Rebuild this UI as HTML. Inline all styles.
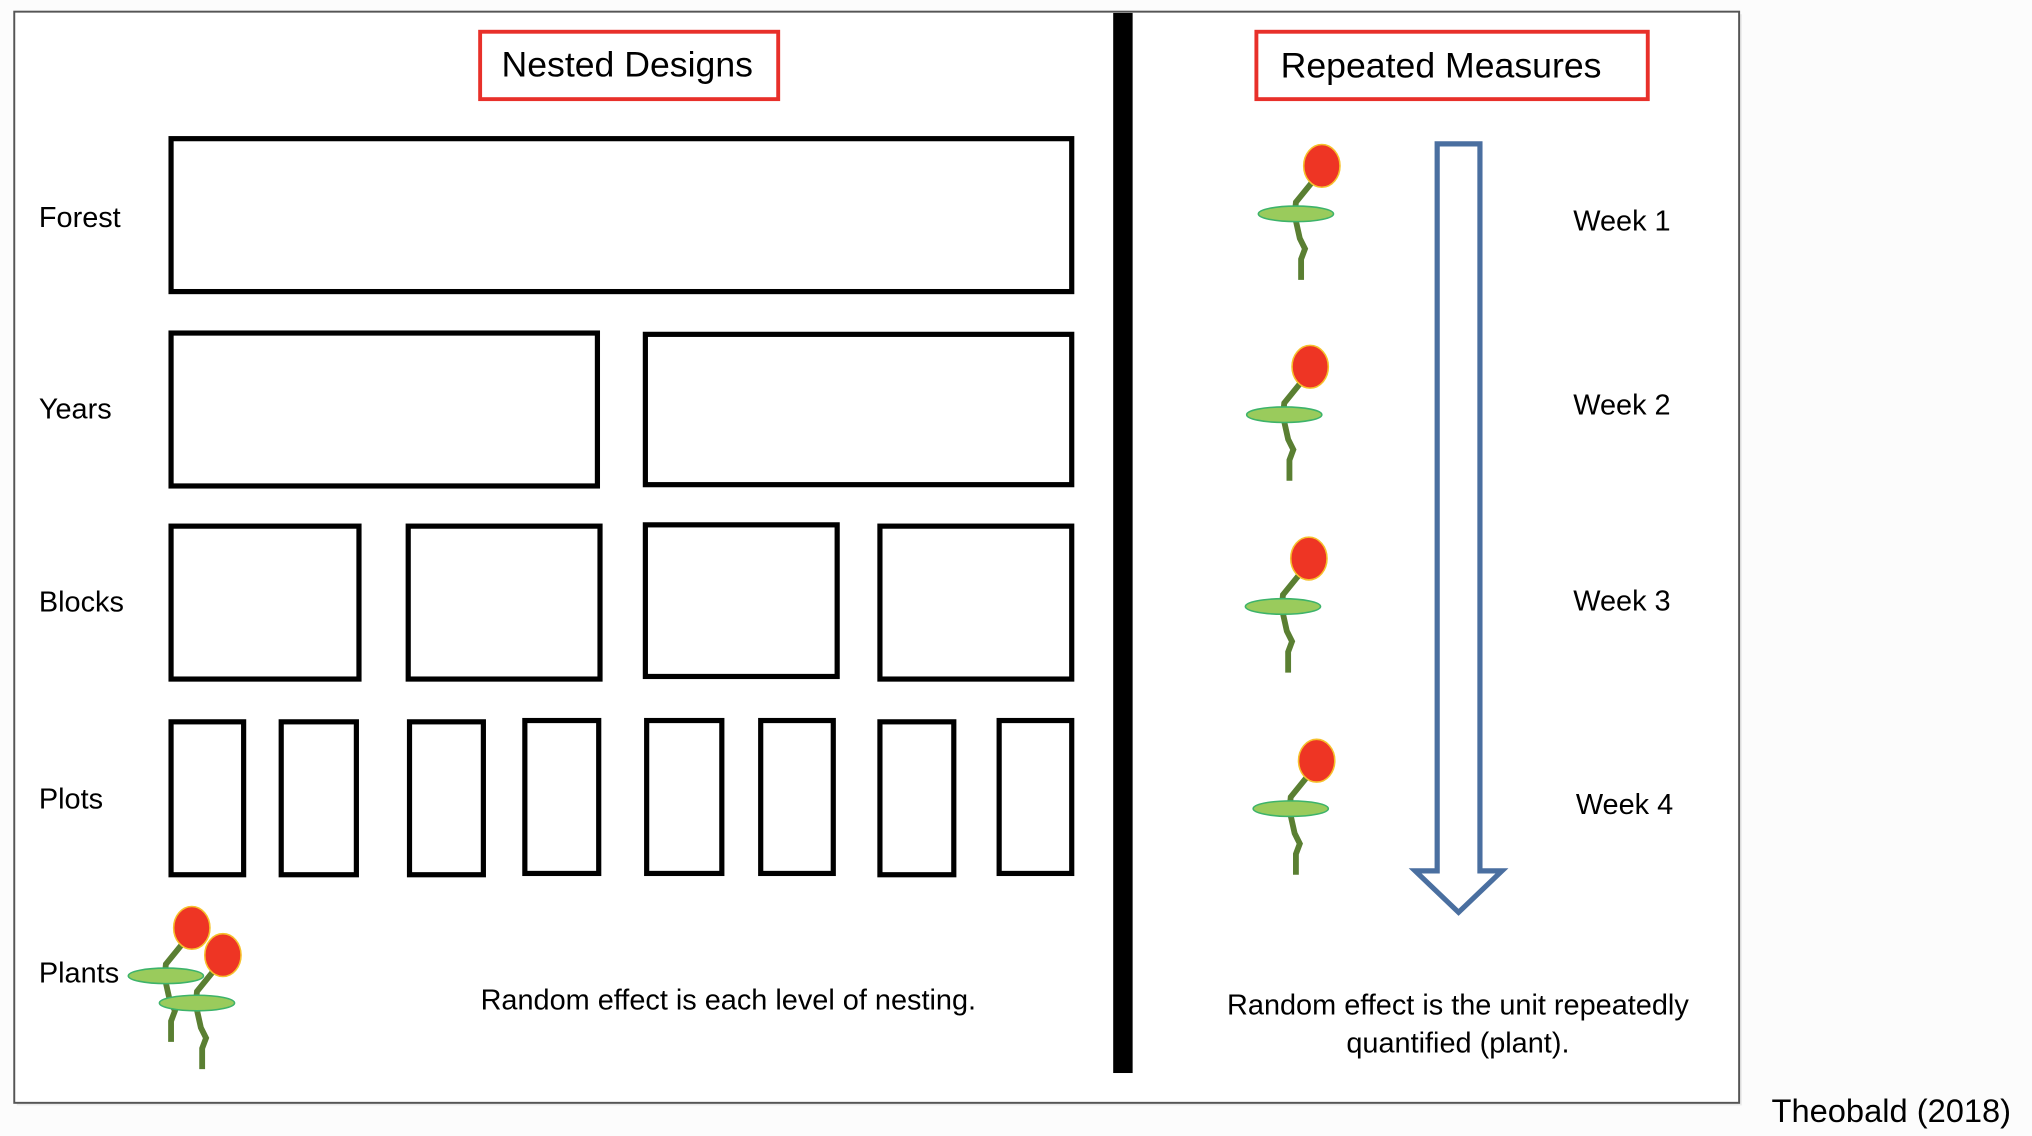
<!DOCTYPE html>
<html><head><meta charset="utf-8"><style>
html,body{margin:0;padding:0;background:#fff;}
svg{display:block;}
text{font-family:"Liberation Sans",sans-serif;fill:#000;}
</style></head><body>
<svg width="2032" height="1136" viewBox="0 0 1568 876.6" preserveAspectRatio="none" xmlns="http://www.w3.org/2000/svg">
<defs>
<g id="pl">
<path d="M-7,12 L-20,28 L-21,38 L-17,56 L-13,64 L-16,72 L-16,88" fill="none" stroke="#5a7f32" stroke-width="4.5"/>
<ellipse cx="-20" cy="37" rx="29" ry="6" fill="#9acb5c" stroke="#3db36a" stroke-width="1.2"/>
<ellipse cx="0" cy="0" rx="14" ry="16.5" fill="#ee3524" stroke="#f6c12c" stroke-width="1.2"/>
</g>
</defs>
<rect x="0" y="0" width="1568" height="877" fill="#fcfcfc"/>
<rect x="13" y="11" width="1331" height="842" fill="#d8d8d8" opacity="0.5"/>
<rect x="11" y="9" width="1331" height="842" fill="#fff" stroke="#555" stroke-width="1.5"/>
<rect x="859" y="10" width="15" height="818" fill="#000"/>
<rect x="370.5" y="24.5" width="230" height="52" fill="none" stroke="#e8302a" stroke-width="3"/>
<text x="484" y="59" font-size="27.5" text-anchor="middle">Nested Designs</text>
<rect x="969.5" y="24.5" width="302" height="52" fill="none" stroke="#e8302a" stroke-width="3"/>
<text x="1112" y="60" font-size="27.5" text-anchor="middle">Repeated Measures</text>
<g font-size="22.3">
<text x="30" y="175">Forest</text>
<text x="30" y="323">Years</text>
<text x="30" y="472">Blocks</text>
<text x="30" y="624">Plots</text>
<text x="30" y="758">Plants</text>
<text x="562" y="779" text-anchor="middle">Random effect is each level of nesting.</text>
<text x="1125" y="783" text-anchor="middle">Random effect is the unit repeatedly</text>
<text x="1125" y="812" text-anchor="middle">quantified (plant).</text>
<text x="1214" y="178">Week 1</text>
<text x="1214" y="320">Week 2</text>
<text x="1214" y="471">Week 3</text>
<text x="1216" y="628">Week 4</text>
</g>
<g fill="none" stroke="#000" stroke-width="4">
<rect x="132" y="107" width="695" height="118"/>
<rect x="132" y="257" width="329" height="118"/>
<rect x="498" y="258" width="329" height="116"/>
<rect x="132" y="406" width="145" height="118"/>
<rect x="315" y="406" width="148" height="118"/>
<rect x="498" y="405" width="148" height="117"/>
<rect x="679" y="406" width="148" height="118"/>
<rect x="132" y="557" width="56" height="118"/>
<rect x="217" y="557" width="58" height="118"/>
<rect x="316" y="557" width="57" height="118"/>
<rect x="405" y="556" width="57" height="118"/>
<rect x="499" y="556" width="58" height="118"/>
<rect x="587" y="556" width="56" height="118"/>
<rect x="679" y="557" width="57" height="118"/>
<rect x="771" y="556" width="56" height="118"/>
</g>
<path d="M1109,111 L1142,111 L1142,672 L1159,672 L1125.5,704 L1092,672 L1109,672 Z" fill="#fff" stroke="#4a6fa0" stroke-width="4" stroke-linejoin="miter"/>
<use href="#pl" x="1020" y="128"/>
<use href="#pl" x="1011" y="283"/>
<use href="#pl" x="1010" y="431"/>
<use href="#pl" x="1016" y="587"/>
<use href="#pl" x="148" y="716"/>
<use href="#pl" x="172" y="737"/>
<text x="1367" y="866" font-size="25.2">Theobald (2018)</text>
</svg>
</body></html>
